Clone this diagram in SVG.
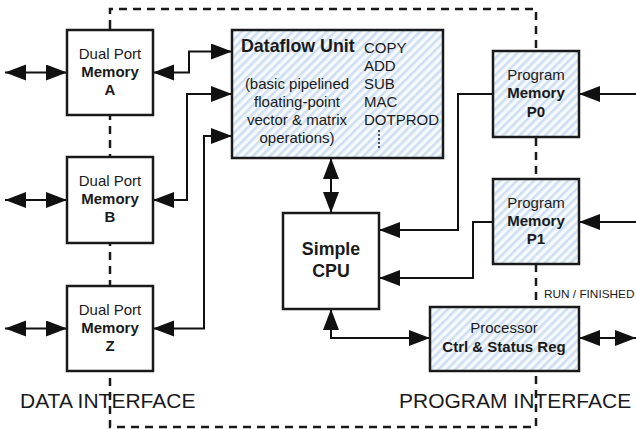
<svg xmlns="http://www.w3.org/2000/svg" width="636" height="429" viewBox="0 0 636 429">
<defs>
<pattern id="hatch" width="6" height="6" patternUnits="userSpaceOnUse" patternTransform="rotate(45)">
<rect width="6" height="6" fill="#f7fafd"/>
<rect width="2.6" height="6" fill="#cfdff1"/>
</pattern>
<marker id="ah" markerUnits="userSpaceOnUse" markerWidth="22" markerHeight="17" refX="21" refY="8" orient="auto-start-reverse">
<path d="M0,0 L21,8 L0,16 z" fill="#111"/>
</marker>
</defs>
<style>
.box{fill:#fff;stroke:#1a1a1a;stroke-width:2.5}
.hb{fill:url(#hatch);stroke:#1a1a1a;stroke-width:2.5}
.dash{fill:none;stroke:#1a1a1a;stroke-width:2.5;stroke-dasharray:8 6}
.c{fill:none;stroke:#111;stroke-width:2}
.a1{marker-end:url(#ah)}
.a2{marker-start:url(#ah);marker-end:url(#ah)}
text{font-family:"Liberation Sans",Arial,sans-serif;fill:#1a1a1a}
.n{font-size:15px;text-anchor:middle}
.b{font-size:15px;font-weight:bold;text-anchor:middle}
.big{font-size:17.8px;font-weight:bold}
.op{font-size:15px}
.lbl{font-size:21px}
</style>
<g id="bus">
<path class="dash" d="M110,28 V9 H536 V427 H110 V28"/>
</g>
<g id="connectors">
<path class="c a2" d="M5,72.5 H67"/>
<path class="c a2" d="M5,200 H67"/>
<path class="c a2" d="M5,328.5 H67"/>
<path class="c a2" d="M153,72.5 H189 V51.5 H232"/>
<path class="c a2" d="M153,200 H187 V94 H232"/>
<path class="c a2" d="M153,328.5 H204 V136 H232"/>
<path class="c a2" d="M331,158 V213"/>
<path class="c a1" d="M493,94 H458 V230 H379"/>
<path class="c a1" d="M493,222 H473 V278 H379"/>
<path class="c a1" d="M636,94 H579"/>
<path class="c a1" d="M636,222 H579"/>
<path class="c a2" d="M331,309 V338 H430"/>
<path class="c a2" d="M579,338 H636"/>
</g>
<g id="memA">
<rect class="box" x="67" y="30" width="86" height="85"/>
<text class="n" x="110" y="59">Dual Port</text>
<text class="b" x="110" y="77">Memory</text>
<text class="b" x="110" y="95">A</text>
</g>
<g id="memB">
<rect class="box" x="67" y="157" width="86" height="86"/>
<text class="n" x="110" y="186">Dual Port</text>
<text class="b" x="110" y="204">Memory</text>
<text class="b" x="110" y="222">B</text>
</g>
<g id="memZ">
<rect class="box" x="67" y="286" width="86" height="85"/>
<text class="n" x="110" y="315">Dual Port</text>
<text class="b" x="110" y="333">Memory</text>
<text class="b" x="110" y="351">Z</text>
</g>
<g id="dataflow">
<rect class="hb" x="232" y="30" width="211" height="128"/>
<text class="big" x="241" y="52">Dataflow Unit</text>
<text class="n" x="297" y="89">(basic pipelined</text>
<text class="n" x="297" y="107">floating-point</text>
<text class="n" x="297" y="125">vector &amp; matrix</text>
<text class="n" x="297" y="143">operations)</text>
<text class="op" x="364" y="53">COPY</text>
<text class="op" x="364" y="71">ADD</text>
<text class="op" x="364" y="89">SUB</text>
<text class="op" x="364" y="107">MAC</text>
<text class="op" x="364" y="125">DOTPROD</text>
<path d="M379,130 V148" stroke="#1a1a1a" stroke-width="1.5" stroke-dasharray="2 2" fill="none"/>
</g>
<g id="p0">
<rect class="hb" x="493" y="51" width="86" height="86"/>
<text class="n" x="536" y="80">Program</text>
<text class="b" x="536" y="98">Memory</text>
<text class="b" x="536" y="117">P0</text>
</g>
<g id="p1">
<rect class="hb" x="493" y="179" width="86" height="85"/>
<text class="n" x="536" y="208">Program</text>
<text class="b" x="536" y="226">Memory</text>
<text class="b" x="536" y="244">P1</text>
</g>
<g id="cpu">
<rect class="box" x="283" y="213" width="96" height="96"/>
<text class="big" x="331" y="255" text-anchor="middle">Simple</text>
<text class="big" x="331" y="277" text-anchor="middle">CPU</text>
</g>
<g id="ctrl">
<rect class="hb" x="430" y="307" width="149" height="64"/>
<text class="n" x="504" y="333">Processor</text>
<text class="b" x="504" y="352">Ctrl &amp; Status Reg</text>
</g>
<text x="544" y="298" font-size="11.8px">RUN / FINISHED</text>
<text class="lbl" x="20" y="408">DATA INTERFACE</text>
<text class="lbl" x="399" y="408">PROGRAM INTERFACE</text>
</svg>
